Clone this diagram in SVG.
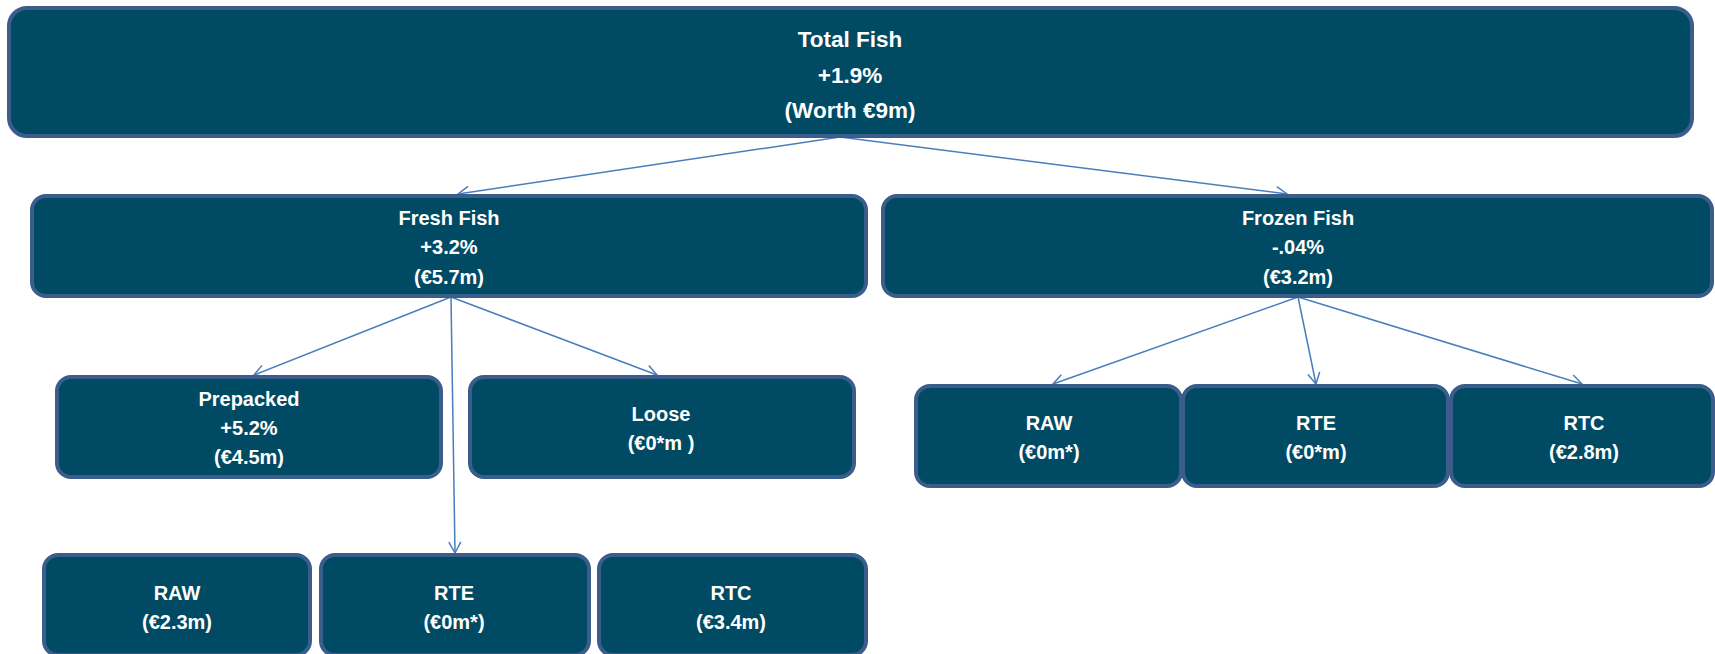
<svg xmlns="http://www.w3.org/2000/svg" width="1715" height="654" viewBox="0 0 1715 654">
<defs>
<style>
.box{fill:#004a63;stroke:#3a5d8c;stroke-width:4}
.t{font-family:"Liberation Sans",Arial,sans-serif;font-weight:bold;fill:#ffffff;text-anchor:middle;font-size:20px}
.tt{font-size:22.5px}
.c{stroke:#4a7ebb;stroke-width:1.5;fill:none}
</style>
<marker id="ah" markerWidth="14" markerHeight="14" refX="12" refY="7" orient="auto" markerUnits="userSpaceOnUse">
<path d="M1,1 L12,7 L1,13" fill="none" stroke="#4a7ebb" stroke-width="1.5"/>
</marker>
</defs>
<rect width="1715" height="654" fill="#ffffff"/>
<g id="connectors">
<line class="c" x1="840" y1="137" x2="458" y2="194" marker-end="url(#ah)"/>
<line class="c" x1="840" y1="137" x2="1287" y2="194" marker-end="url(#ah)"/>
<line class="c" x1="451" y1="297" x2="254" y2="375" marker-end="url(#ah)"/>
<line class="c" x1="451" y1="297" x2="657" y2="375" marker-end="url(#ah)"/>
<line class="c" x1="451" y1="297" x2="455" y2="553" marker-end="url(#ah)"/>
<line class="c" x1="1298" y1="297" x2="1053" y2="384" marker-end="url(#ah)"/>
<line class="c" x1="1298" y1="297" x2="1316" y2="384" marker-end="url(#ah)"/>
<line class="c" x1="1298" y1="297" x2="1582" y2="384" marker-end="url(#ah)"/>
</g>
<g id="total">
<rect class="box" x="9" y="8" width="1683" height="128" rx="18"/>
<text class="t tt" x="850" y="47">Total Fish</text>
<text class="t tt" x="850" y="83">+1.9%</text>
<text class="t tt" x="850" y="118">(Worth €9m)</text>
</g>
<g id="fresh">
<rect class="box" x="32" y="196" width="834" height="100" rx="14"/>
<text class="t" x="449" y="225">Fresh Fish</text>
<text class="t" x="449" y="254">+3.2%</text>
<text class="t" x="449" y="284">(€5.7m)</text>
</g>
<g id="frozen">
<rect class="box" x="883" y="196" width="829" height="100" rx="14"/>
<text class="t" x="1298" y="225">Frozen Fish</text>
<text class="t" x="1298" y="254">-.04%</text>
<text class="t" x="1298" y="284">(€3.2m)</text>
</g>
<g id="prepacked">
<rect class="box" x="57" y="377" width="384" height="100" rx="14"/>
<text class="t" x="249" y="406">Prepacked</text>
<text class="t" x="249" y="435">+5.2%</text>
<text class="t" x="249" y="464">(€4.5m)</text>
</g>
<g id="loose">
<rect class="box" x="470" y="377" width="384" height="100" rx="14"/>
<text class="t" x="661" y="421">Loose</text>
<text class="t" x="661" y="450">(€0*m )</text>
</g>
<g id="frozen-raw">
<rect class="box" x="916" y="386" width="265" height="100" rx="14"/>
<text class="t" x="1049" y="430">RAW</text>
<text class="t" x="1049" y="459">(€0m*)</text>
</g>
<g id="frozen-rte">
<rect class="box" x="1183" y="386" width="265" height="100" rx="14"/>
<text class="t" x="1316" y="430">RTE</text>
<text class="t" x="1316" y="459">(€0*m)</text>
</g>
<g id="frozen-rtc">
<rect class="box" x="1451" y="386" width="262" height="100" rx="14"/>
<text class="t" x="1584" y="430">RTC</text>
<text class="t" x="1584" y="459">(€2.8m)</text>
</g>
<g id="fresh-raw">
<rect class="box" x="44" y="555" width="266" height="100" rx="14"/>
<text class="t" x="177" y="600">RAW</text>
<text class="t" x="177" y="629">(€2.3m)</text>
</g>
<g id="fresh-rte">
<rect class="box" x="321" y="555" width="268" height="100" rx="14"/>
<text class="t" x="454" y="600">RTE</text>
<text class="t" x="454" y="629">(€0m*)</text>
</g>
<g id="fresh-rtc">
<rect class="box" x="599" y="555" width="267" height="100" rx="14"/>
<text class="t" x="731" y="600">RTC</text>
<text class="t" x="731" y="629">(€3.4m)</text>
</g>
</svg>
